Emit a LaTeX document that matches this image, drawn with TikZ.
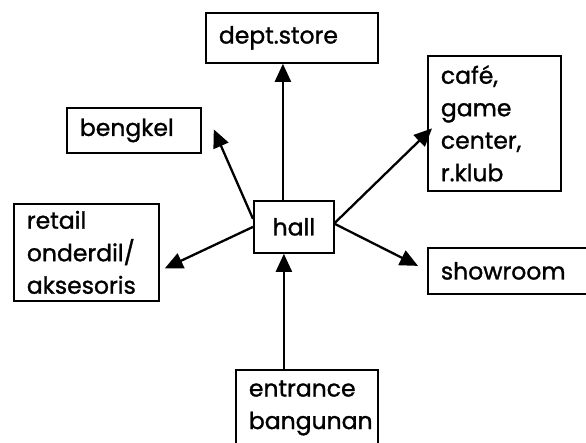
\documentclass[tikz,border=0pt]{standalone}
\usepackage{fontspec}
\setmainfont{Poppins}[FakeBold=1.2]
\newfontfamily\labelfont{Poppins}[FakeBold=1.2]
\usetikzlibrary{arrows.meta}
\begin{document}
\begin{tikzpicture}[x=1pt,y=-1pt,
  box/.style={draw,line width=1.8pt,anchor=north west,align=left,
    inner xsep=13pt,inner ysep=0pt,font=\labelfont\fontsize{23.5}{32.5}\selectfont},
  arr/.style={line width=2.3pt,-{Triangle[length=18pt,width=16pt]}}]
\useasboundingbox (0,0) rectangle (586,443);
\clip (0,0) rectangle (586,443);
\fill[white] (0,0) rectangle (586,443);
% rooms around the central hall
\node[box,minimum width=172pt,minimum height=50pt,text width=146pt] (dept) at (205,12) {dept.store};
\node[box,minimum width=134pt,minimum height=45pt,text width=108pt] (bengkel) at (66,107) {bengkel};
\node[box,minimum width=133pt,minimum height=135pt,text width=107pt] (cafe) at (427,55) {café,\\game\\center,\\r.klub};
\node[box,minimum width=145pt,minimum height=97pt,text width=119pt] (retail) at (13,203) {retail\\onderdil/\\aksesoris};
\node[box,minimum width=80pt,minimum height=52pt,align=center,inner xsep=0pt,text width=80pt] (hall) at (253,200) {hall};
\node[box,minimum width=170pt,minimum height=46pt,text width=144pt] (show) at (427,247) {showroom};
\node[box,minimum width=142pt,minimum height=76pt,text width=116pt] (entr) at (235,369) {entrance\\bangunan};
% circulation from the hall
\draw[arr] ([xshift=-11pt]hall.north) -- ([xshift=-9pt]dept.south);
\draw[arr] ([yshift=8pt]hall.west) -- ([xshift=12pt,yshift=1pt]bengkel.east);
\draw[arr] ([yshift=4pt]hall.east) -- ([xshift=5pt,yshift=-5pt]cafe.west);
\draw[arr] ([yshift=3pt]hall.east) -- ([xshift=-9pt,yshift=5pt]show.west);
\draw[arr] ([yshift=0pt]hall.west) -- ([xshift=5pt,yshift=-16pt]retail.east);
\draw[arr] ([xshift=-23pt]entr.north) -- ([xshift=-10pt]hall.south);
\end{tikzpicture}
\end{document}
